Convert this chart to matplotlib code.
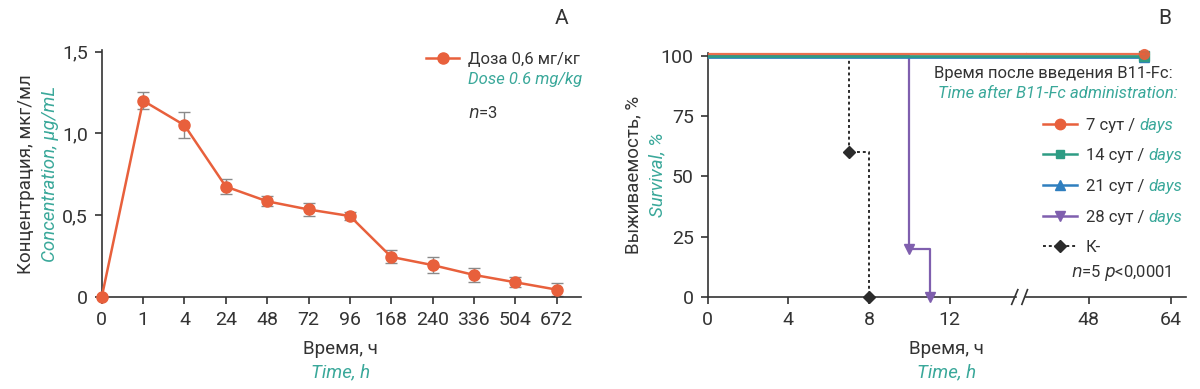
import numpy as np
import matplotlib
matplotlib.use("Agg")
import matplotlib.pyplot as plt
import matplotlib.transforms as mtransforms
from matplotlib.lines import Line2D

plt.rcParams["font.family"] = ["Roboto", "DejaVu Sans"]

DARK = "#333333"
TEAL = "#3aa89a"
ORANGE = "#e8603c"
GREEN = "#2e9c84"
BLUE = "#2f7fbf"
PURPLE = "#7f5fae"
BLACK = "#2b2b2b"
ERRC = "#8a8a8a"

# --- panel A: concentration ---
time_labels = ["0", "1", "4", "24", "48", "72", "96", "168", "240", "336", "504", "672"]
conc = [0.0, 1.20, 1.05, 0.675, 0.585, 0.535, 0.495, 0.245, 0.195, 0.135, 0.09, 0.045]
conc_err = [0.0, 0.053, 0.08, 0.048, 0.03, 0.042, 0.025, 0.04, 0.048, 0.045, 0.03, 0.04]

# --- panel B: survival (Kaplan-Meier steps) ---
d7_t, d7_s = [0, 58.7], [100, 100]
d14_t, d14_s = [0, 58.7], [100, 100]
d21_t, d21_s = [0, 58.7], [100, 100]
d28_t, d28_s = [0, 10, 11], [100, 20, 0]
ctrl_t, ctrl_s = [0, 7, 8], [100, 60, 0]

TICK_FS = 14
LAB_FS = 13.5
LEG_FS = 12

fig = plt.figure(figsize=(12, 3.89), dpi=100)

def style(ax, left=True):
    ax.spines["top"].set_visible(False)
    ax.spines["right"].set_visible(False)
    for s in ("left", "bottom"):
        ax.spines[s].set_color(DARK)
        ax.spines[s].set_linewidth(1.2)
    ax.tick_params(colors=DARK, labelsize=TICK_FS, width=1.2, length=5, pad=5)
    if not left:
        ax.spines["left"].set_visible(False)
        ax.tick_params(axis="y", left=False, labelleft=False)

# ---------------- A ----------------
axA = fig.add_axes([0.0848, 0.2365, 0.3991, 0.635])
style(axA)
xa = np.arange(len(time_labels))
axA.errorbar(xa, conc, yerr=conc_err, fmt="none", ecolor=ERRC, elinewidth=1.0,
             capsize=4, capthick=1.0, zorder=2, clip_on=False)
axA.plot(xa, conc, color=ORANGE, lw=1.8, marker="o", ms=8, zorder=3, clip_on=False,
         label="Доза 0,6 мг/кг")
axA.set_xlim(0, 11.58)
axA.set_ylim(0, 1.51)
axA.set_xticks(xa)
axA.set_xticklabels(time_labels)
axA.set_yticks([0, 0.5, 1.0, 1.5])
axA.set_yticklabels(["0", "0,5", "1,0", "1,5"])
legA = axA.legend(loc="upper left", bbox_to_anchor=(0.3425, 0.905),
                  bbox_transform=fig.transFigure, frameon=False, fontsize=LEG_FS,
                  handlelength=2.0, handletextpad=0.5, labelcolor=DARK)

fig.text(0.0217, 0.553, "Концентрация, мкг/мл", rotation=90, ha="center", va="center",
         fontsize=LAB_FS, color=DARK)
fig.text(0.0417, 0.553, "Concentration, μg/mL", rotation=90, ha="center", va="center",
         fontsize=LAB_FS, color=TEAL, style="italic")
fig.text(0.284, 0.103, "Время, ч", ha="center", va="center", fontsize=LAB_FS, color=DARK)
fig.text(0.284, 0.042, "Time, h", ha="center", va="center", fontsize=LAB_FS, color=TEAL,
         style="italic")
fig.text(0.468, 0.953, "A", ha="center", va="center", fontsize=15, color=DARK)

# ---------------- B ----------------
axB1 = fig.add_axes([0.5897, 0.2365, 0.2572, 0.6275])
axB2 = fig.add_axes([0.8549, 0.2365, 0.1338, 0.6275])
style(axB1)
style(axB2, left=False)

def offset(ax, dy):
    return ax.transData + mtransforms.ScaledTranslation(0, dy / 72, fig.dpi_scale_trans)

def clip_x(line, ax, xmax):
    # clip only along x so markers on the 0/100 lines stay whole
    box = mtransforms.TransformedBbox(mtransforms.Bbox([[0, -0.2], [xmax, 1.2]]),
                                      ax.transAxes)
    line.set_clip_box(box)

for ax, xmax in ((axB1, 1.035), (axB2, 1.0)):
    ax.set_ylim(0, 101.2)
    lines = []
    lines += ax.plot(ctrl_t, ctrl_s, drawstyle="steps-post", color=BLACK, lw=1.4,
                     ls=(0, (1.5, 1.5)), marker="D", ms=6, markevery=[1, 2], zorder=3)
    lines += ax.plot(d28_t, d28_s, drawstyle="steps-post", color=PURPLE, lw=1.6,
                     marker="v", ms=7, markevery=[1, 2], zorder=3)
    lines += ax.plot(d21_t, d21_s, color=BLUE, lw=2.0, marker="^", ms=7, markevery=[1],
                     transform=offset(ax, -1.2), zorder=4)
    lines += ax.plot(d14_t, d14_s, color=GREEN, lw=2.0, marker="s", ms=6.5, markevery=[1],
                     transform=offset(ax, 0), zorder=5)
    lines += ax.plot(d7_t, d7_s, color=ORANGE, lw=1.6, marker="o", ms=7, markevery=[1],
                     transform=offset(ax, 1.3), zorder=6, alpha=0.9)
    for ln in lines:
        clip_x(ln, ax, xmax)

axB1.set_xlim(0, 15.3)
axB2.set_xlim(35.8, 67.0)
axB1.set_xticks([0, 4, 8, 12])
axB2.set_xticks([48, 64])
axB1.set_yticks([0, 25, 50, 75, 100])

# break marks
axB1.plot([0.985, 1.005], [-0.03, 0.03], transform=axB1.transAxes, color=DARK, lw=1.2,
          clip_on=False)
axB2.plot([-0.025, 0.01], [-0.03, 0.03], transform=axB2.transAxes, color=DARK, lw=1.2,
          clip_on=False)

handles = [
    Line2D([], [], color=ORANGE, lw=1.8, marker="o", ms=7.5),
    Line2D([], [], color=GREEN, lw=1.8, marker="s", ms=6),
    Line2D([], [], color=BLUE, lw=1.8, marker="^", ms=6.5),
    Line2D([], [], color=PURPLE, lw=1.8, marker="v", ms=6.5),
    Line2D([], [], color=BLACK, lw=1.4, ls=(0, (1.5, 1.5)), marker="D", ms=6),
]
labels = ["7 сут /", "14 сут /", "21 сут /", "28 сут /", "К-"]
legB = fig.legend(handles, labels, loc="upper left", bbox_to_anchor=(0.864, 0.715),
                  frameon=False, fontsize=12, handlelength=2.0, handletextpad=0.55,
                  labelspacing=0.94, labelcolor=DARK, borderaxespad=0)

fig.text(0.9775, 0.812, "Время после введения B11-Fc:", ha="right", va="center",
         fontsize=LEG_FS, color=DARK)
fig.text(0.9817, 0.76, "Time after B11-Fc administration:", ha="right", va="center",
         fontsize=LEG_FS, color=TEAL, style="italic")
fig.text(0.9767, 0.298, "$n$=5 $p$<0,0001", ha="right", va="center", fontsize=LEG_FS,
         color=DARK)

fig.text(0.5275, 0.55, "Выживаемость, %", rotation=90, ha="center", va="center",
         fontsize=LAB_FS, color=DARK)
fig.text(0.548, 0.55, "Survival, %", rotation=90, ha="center", va="center",
         fontsize=LAB_FS, color=TEAL, style="italic")
fig.text(0.789, 0.103, "Время, ч", ha="center", va="center", fontsize=LAB_FS, color=DARK)
fig.text(0.789, 0.042, "Time, h", ha="center", va="center", fontsize=LAB_FS, color=TEAL,
         style="italic")
fig.text(0.971, 0.953, "B", ha="center", va="center", fontsize=15, color=DARK)

# add the italic english parts next to legend labels
fig.canvas.draw()
r = fig.canvas.get_renderer()
inv = fig.transFigure.inverted()
for t in legB.get_texts()[:4]:
    bb = t.get_window_extent(r)
    x0, y0 = inv.transform((bb.x1 + 4, (bb.y0 + bb.y1) / 2))
    fig.text(x0, y0, "days", ha="left", va="center", fontsize=12, color=TEAL,
             style="italic")
tA = legA.get_texts()[0]
bb = tA.get_window_extent(r)
x0, y0 = inv.transform((bb.x0, bb.y0 - 5))
fig.text(x0, y0, "Dose 0.6 mg/kg", ha="left", va="top", fontsize=LEG_FS, color=TEAL,
         style="italic")
fig.text(x0, y0 - 0.085, "$n$=3", ha="left", va="top", fontsize=LEG_FS, color=DARK)

fig.savefig("out.png", dpi=100)
